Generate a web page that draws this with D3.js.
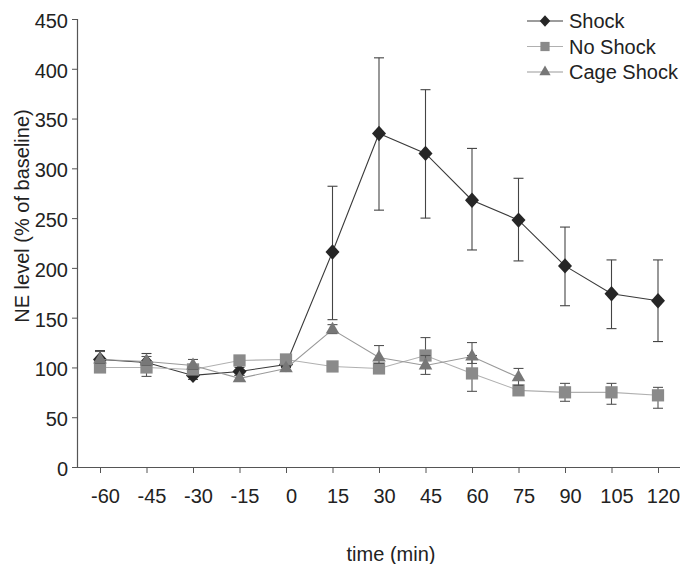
<!DOCTYPE html>
<html><head><meta charset="utf-8">
<script src="https://cdn.jsdelivr.net/npm/d3@7"></script>
<style>body{margin:0;background:#fff}svg{display:block}text{font-family:"Liberation Sans",Arial,sans-serif;fill:#222}</style>
</head><body><svg id="c" width="684" height="564"></svg>
<script>
const times = [-60,-45,-30,-15,0,15,30,45,60,75,90,105,120];
const yTicks = [0,50,100,150,200,250,300,350,400,450];
const shock   = [108,105,92,96,103,216,335,315,268,248,202,174,167];
const shockHi = [117,114,96,100,106,282,411,379,320,290,241,208,208];
const shockLo = [100,97,88,92,100,148,258,250,218,207,162,139,126];
const noShock   = [100,100,98,107,108,101,99,112,94,77,75,75,72];
const noShockHi = [104,104,102,110,111,104,102,130,112,80,84,84,80];
const noShockLo = [96,91,94,104,105,98,96,108,76,72,66,63,59];
const cage   = [108,106,102,89,99,138,110,102,111,90];
const cageHi = [116,111,108,92,102,143,122,112,125,99];
const cageLo = [104,102,98,86,96,134,104,93,104,82];
const names = ["Shock","No Shock","Cage Shock"];

const svg = d3.select("#c");
const x = d3.scaleLinear().domain([-60,120]).range([100,658]);
const y = d3.scaleLinear().domain([0,450]).range([467,19]);

const diamond = {draw(ctx,size){const w=Math.sqrt(size)/2, h=w*1.1;ctx.moveTo(0,-h);ctx.lineTo(w,0);ctx.lineTo(0,h);ctx.lineTo(-w,0);ctx.closePath();}};

// axes
const yAxis = d3.axisLeft(y).tickValues(yTicks).tickSize(5).tickPadding(4).tickFormat(d=>String(d));
const gy = svg.append("g").attr("transform","translate(77,0)").call(yAxis);
const xAxis = d3.axisBottom(x).tickValues(times).tickSize(6).tickPadding(16).tickFormat(d=>String(d));
const gx = svg.append("g").attr("transform","translate(0,467)").call(xAxis);
[gy,gx].forEach(g=>{
  g.selectAll("path").attr("stroke","#555").attr("stroke-width",1.2);
  g.selectAll("line").attr("stroke","#555");
  g.selectAll("text").attr("font-size",20).style("font-family","'Liberation Sans',Arial,sans-serif").attr("fill","#222");
});
gx.select("path.domain").attr("d","M74,0.5H680");
gx.selectAll(".tick text").attr("dx",5);
gy.selectAll(".tick text").attr("dy","0.42em");

svg.append("text").attr("transform","translate(29,216) rotate(-90)")
  .attr("text-anchor","middle").attr("font-size",20).text("NE level (% of baseline)");
svg.append("text").attr("x",391).attr("y",561).attr("text-anchor","middle")
  .attr("font-size",20).text("time (min)");

const series = [
  {vals:shock, hi:shockHi, lo:shockLo, line:"#3a3a3a", fill:"#262626", err:"#444", sym:diamond, size:196, lsize:110},
  {vals:noShock, hi:noShockHi, lo:noShockLo, line:"#b0b0b0", fill:"#8a8a8a", err:"#555", sym:d3.symbolSquare, size:150, lsize:85},
  {vals:cage, hi:cageHi, lo:cageLo, line:"#999", fill:"#777", err:"#555", sym:d3.symbolTriangle, size:80, lsize:55}
];

series.forEach(s=>{
  const pts = s.vals.map((v,i)=>({t:times[i],v:v,hi:s.hi[i],lo:s.lo[i]}));
  const g = svg.append("g");
  g.append("path").datum(pts).attr("fill","none").attr("stroke",s.line).attr("stroke-width",1.1)
    .attr("d",d3.line().x(d=>x(d.t)).y(d=>y(d.v)));
  pts.forEach(d=>{
    const cx = x(d.t);
    g.append("line").attr("x1",cx).attr("x2",cx).attr("y1",y(d.hi)).attr("y2",y(d.lo)).attr("stroke",s.err).attr("stroke-width",1.1);
    [d.hi,d.lo].forEach(e=>g.append("line").attr("x1",cx-5).attr("x2",cx+5).attr("y1",y(e)).attr("y2",y(e)).attr("stroke",s.err).attr("stroke-width",1.1));
  });
  g.selectAll("path.m").data(pts).join("path").attr("class","m")
    .attr("transform",d=>`translate(${x(d.t)},${y(d.v)})`)
    .attr("d",d3.symbol().type(s.sym).size(s.size)).attr("fill",s.fill);
});

// legend
const lg = svg.append("g");
series.forEach((s,i)=>{
  const yy = 21 + i*25.5;
  lg.append("line").attr("x1",527).attr("x2",563).attr("y1",yy).attr("y2",yy).attr("stroke",s.line).attr("stroke-width",1.2);
  lg.append("path").attr("transform",`translate(545,${yy})`).attr("d",d3.symbol().type(s.sym).size(s.lsize)).attr("fill",s.fill);
  lg.append("text").attr("x",569).attr("y",yy+7).attr("font-size",20).text(names[i]);
});
</script></body></html>
